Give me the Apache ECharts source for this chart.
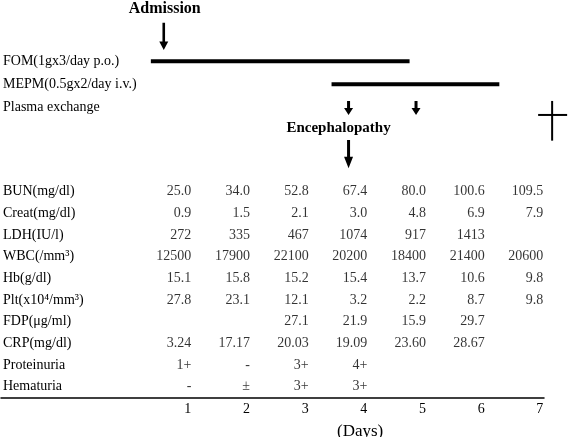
<!DOCTYPE html>
<html><head><meta charset="utf-8">
<script src="https://cdn.jsdelivr.net/npm/echarts@6/dist/echarts.min.js"></script>
<style>html,body{margin:0;padding:0;background:#fff}#c{width:568px;height:437px}</style>
</head><body><div id="c"></div>
<script>
// ---- data ----
const days = [1, 2, 3, 4, 5, 6, 7];
const labRows = ['BUN(mg/dl)', 'Creat(mg/dl)', 'LDH(IU/l)', 'WBC(/mm³)', 'Hb(g/dl)',
  'Plt(x10⁴/mm³)', 'FDP(μg/ml)', 'CRP(mg/dl)', 'Proteinuria', 'Hematuria'];
const BUN = ['25.0', '34.0', '52.8', '67.4', '80.0', '100.6', '109.5'];
const Creat = ['0.9', '1.5', '2.1', '3.0', '4.8', '6.9', '7.9'];
const LDH = ['272', '335', '467', '1074', '917', '1413', null];
const WBC = ['12500', '17900', '22100', '20200', '18400', '21400', '20600'];
const Hb = ['15.1', '15.8', '15.2', '15.4', '13.7', '10.6', '9.8'];
const Plt = ['27.8', '23.1', '12.1', '3.2', '2.2', '8.7', '9.8'];
const FDP = [null, null, '27.1', '21.9', '15.9', '29.7', null];
const CRP = ['3.24', '17.17', '20.03', '19.09', '23.60', '28.67', null];
const Proteinuria = ['1+', '-', '3+', '4+', null, null, null];
const Hematuria = ['-', '±', '3+', '3+', null, null, null];
const labValues = [BUN, Creat, LDH, WBC, Hb, Plt, FDP, CRP, Proteinuria, Hematuria];

const therapyRows = ['FOM(1gx3/day p.o.)', 'MEPM(0.5gx2/day i.v.)', 'Plasma exchange'];
const FOM = [0.31, 4.72];          // start / end (days)
const MEPM = [3.39, 6.25];
const plasmaExchange = [3.68, 4.83];
const admissionDay = 0.53;
const encephalopathyDay = 3.68;
const deathDay = 7.15;

// ---- build ----
const FONT = '"Liberation Serif", "Times New Roman", serif';
const tableData = [];
labValues.forEach((row, i) => row.forEach((v, j) => {
  if (v !== null) tableData.push([days[j], labRows[i], v]);
}));

const XMIN = -2.2443;

const chart = echarts.init(document.getElementById('c'), null, {renderer: 'canvas'});
chart.setOption({
  animation: false,
  backgroundColor: '#fff',
  textStyle: {fontFamily: FONT, color: '#000'},
  title: {
    text: '(Days)', left: 337, top: 423, padding: 0,
    textStyle: {fontFamily: FONT, fontSize: 17, fontWeight: 'normal', color: '#000'}
  },
  grid: [
    {left: 0, right: 0, top: 50, height: 68.7},
    {left: 0, right: 24, top: 180.9, height: 216.7}
  ],
  xAxis: [
    {gridIndex: 0, type: 'value', min: XMIN, max: 7.4205, show: false},
    {gridIndex: 1, type: 'value', min: XMIN, max: 7.0121,
      axisLine: {show: true, lineStyle: {color: '#000', width: 1.5}},
      axisTick: {show: false}, splitLine: {show: false},
      axisLabel: {customValues: days, align: 'right', margin: 5, fontSize: 14,
        fontFamily: FONT, color: '#000'}}
  ],
  yAxis: [
    {gridIndex: 0, type: 'category', inverse: true, data: therapyRows,
      axisLine: {show: false}, axisTick: {show: false}, splitLine: {show: false},
      axisLabel: {inside: true, margin: 2, fontSize: 14, fontFamily: FONT, color: '#000'}},
    {gridIndex: 1, type: 'category', inverse: true, data: labRows,
      axisLine: {show: false}, axisTick: {show: false}, splitLine: {show: false},
      axisLabel: {inside: true, margin: 2, fontSize: 14, fontFamily: FONT, color: '#000'}}
  ],
  series: [
    { // lab values table
      type: 'scatter', xAxisIndex: 1, yAxisIndex: 1, symbolSize: 0, silent: true,
      data: tableData,
      label: {show: true, position: 'left', distance: 0, fontSize: 14, fontFamily: FONT,
        color: '#000', formatter: p => p.value[2]}
    },
    { // therapy bars
      type: 'custom', xAxisIndex: 0, yAxisIndex: 0, silent: true,
      data: [[FOM[0], FOM[1], 0], [MEPM[0], MEPM[1], 1]],
      encode: {x: [0, 1], y: 2},
      renderItem: (params, api) => {
        const s = api.coord([api.value(0), api.value(2)]);
        const e = api.coord([api.value(1), api.value(2)]);
        return {type: 'rect', shape: {x: s[0], y: s[1] - 2.2, width: e[0] - s[0], height: 4},
          style: {fill: '#000'}};
      }
    },
    { // plasma exchange arrows
      type: 'custom', xAxisIndex: 0, yAxisIndex: 0, silent: true,
      data: plasmaExchange.map(d => [d, 2]),
      encode: {x: 0, y: 1},
      renderItem: (params, api) => {
        const p = api.coord([api.value(0), api.value(1)]);
        const x = p[0], y = p[1];
        return {type: 'polygon', shape: {points: [
          [x - 1.5, y - 6.3], [x + 1.5, y - 6.3], [x + 1.5, y + 0.7], [x + 4.5, y + 0.7],
          [x, y + 7.7], [x - 4.5, y + 0.7], [x - 1.5, y + 0.7]]}, style: {fill: '#000'}};
      }
    },
    { // admission
      type: 'custom', xAxisIndex: 0, yAxisIndex: 0, silent: true,
      data: [[admissionDay, 0]],
      encode: {x: 0, y: 1},
      renderItem: (params, api) => {
        const p = api.coord([api.value(0), api.value(1)]);
        const x = p[0], y = p[1];
        return {type: 'group', children: [
          {type: 'polygon', shape: {points: [
            [x - 1.3, y - 38.8], [x + 1.3, y - 38.8], [x + 1.3, y - 20], [x + 4.5, y - 20],
            [x, y - 11.5], [x - 4.5, y - 20], [x - 1.3, y - 20]]}, style: {fill: '#000'}},
          {type: 'text', style: {text: 'Admission', x: x + 1, y: y - 52.5, align: 'center',
            verticalAlign: 'middle', fontSize: 16, fontWeight: 'bold', fontFamily: FONT, fill: '#000'}}
        ]};
      }
    },
    { // encephalopathy
      type: 'custom', xAxisIndex: 0, yAxisIndex: 0, silent: true,
      data: [[encephalopathyDay, 2]],
      encode: {x: 0, y: 1},
      renderItem: (params, api) => {
        const p = api.coord([api.value(0), api.value(1)]);
        const x = p[0], y = p[1];
        return {type: 'group', children: [
          {type: 'polygon', shape: {points: [
            [x - 1.5, y + 32.7], [x + 1.5, y + 32.7], [x + 1.5, y + 49.4], [x + 4.5, y + 49.4],
            [x, y + 61], [x - 4.5, y + 49.4], [x - 1.5, y + 49.4]]}, style: {fill: '#000'}},
          {type: 'text', style: {text: 'Encephalopathy', x: x - 10, y: y + 21, align: 'center',
            verticalAlign: 'middle', fontSize: 15, fontWeight: 'bold', fontFamily: FONT, fill: '#000'}}
        ]};
      }
    },
    { // death (cross)
      type: 'custom', xAxisIndex: 0, yAxisIndex: 0, silent: true,
      data: [[deathDay, 2]],
      encode: {x: 0, y: 1},
      renderItem: (params, api) => {
        const p = api.coord([api.value(0), api.value(1)]);
        const x = p[0], y = p[1];
        return {type: 'group', children: [
          {type: 'line', shape: {x1: x, y1: y - 6.3, x2: x, y2: y + 33.4},
            style: {stroke: '#000', lineWidth: 2}},
          {type: 'line', shape: {x1: x - 14, y1: y + 7.7, x2: x + 15, y2: y + 7.7},
            style: {stroke: '#000', lineWidth: 2}}
        ]};
      }
    }
  ]
});
</script></body></html>
